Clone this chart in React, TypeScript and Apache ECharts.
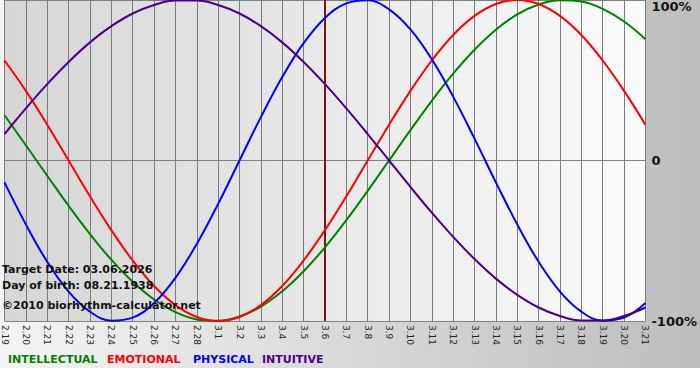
import React, { useEffect, useRef } from "react";
import * as echarts from "echarts";

const days = [
  "2.19", "2.20", "2.21", "2.22", "2.23", "2.24", "2.25", "2.26", "2.27", "2.28",
  "3.1", "3.2", "3.3", "3.4", "3.5", "3.6", "3.7", "3.8", "3.9", "3.10",
  "3.11", "3.12", "3.13", "3.14", "3.15", "3.16", "3.17", "3.18", "3.19", "3.20", "3.21",
];

const intellectual = [
  0.282, 0.095, -0.095, -0.282, -0.458, -0.618, -0.756, -0.866, -0.945, -0.99,
  -0.999, -0.972, -0.91, -0.815, -0.69, -0.541, -0.372, -0.189, 0, 0.189,
  0.372, 0.541, 0.69, 0.815, 0.91, 0.972, 0.999, 0.99, 0.945, 0.866, 0.756,
];

const emotional = [
  0.623, 0.434, 0.223, 0, -0.223, -0.434, -0.623, -0.782, -0.901, -0.975,
  -1.0, -0.975, -0.901, -0.782, -0.623, -0.434, -0.223, 0, 0.223, 0.434,
  0.623, 0.782, 0.901, 0.975, 1.0, 0.975, 0.901, 0.782, 0.623, 0.434, 0.223,
];

const physical = [
  -0.136, -0.398, -0.631, -0.817, -0.942, -0.998, -0.979, -0.888, -0.731, -0.52,
  -0.27, 0, 0.27, 0.52, 0.731, 0.888, 0.979, 0.998, 0.942, 0.817,
  0.631, 0.398, 0.136, -0.136, -0.398, -0.631, -0.817, -0.942, -0.998, -0.979, -0.888,
];

const intuitive = [
  0.165, 0.325, 0.476, 0.614, 0.736, 0.837, 0.916, 0.969, 0.997, 0.997,
  0.969, 0.916, 0.837, 0.736, 0.614, 0.476, 0.325, 0.165, 0, -0.165,
  -0.325, -0.476, -0.614, -0.736, -0.837, -0.916, -0.969, -0.997, -0.997, -0.969, -0.916,
];

const targetDay = "3.6";
const infoLines = [
  "Target Date: 03.06.2026",
  "Day of birth: 08.21.1938",
  "\u00a92010 biorhythm-calculator.net",
];
const legendNames = ["INTELLECTUAL", "EMOTIONAL", "PHYSICAL", "INTUITIVE"];
const colors = ["#008000", "#ff0000", "#0000ff", "#4b0082"];

const FONT = "DejaVu Sans, Verdana, sans-serif";

export default function App() {
  const ref = useRef<HTMLDivElement>(null);
  useEffect(() => {
    document.body.style.margin = "0";
    if (!ref.current) return;
    const chart = echarts.init(ref.current, undefined, { renderer: "svg" });
    const seriesData = [intellectual, emotional, physical, intuitive];
    const legendX = [8, 107, 193, 262];
    const infoY = [271, 287, 307];
    chart.setOption({
      animation: false,
      backgroundColor: "transparent",
      grid: {
        left: 0,
        right: 49,
        top: 0,
        height: 321,
        show: true,
        borderWidth: 0,
        backgroundColor: new echarts.graphic.LinearGradient(0, 0, 1, 0, [
          { offset: 0, color: "#d6d6d6" },
          { offset: 1, color: "#fbfbfb" },
        ]),
      },
      xAxis: {
        type: "category",
        data: days,
        boundaryGap: false,
        axisLine: { show: true, lineStyle: { color: "#808080", width: 1 } },
        axisTick: { show: true, length: 5, interval: 0, lineStyle: { color: "#808080" } },
        axisLabel: {
          interval: 0,
          rotate: -90,
          fontSize: 9,
          fontFamily: FONT,
          color: "#222",
          margin: 4,
        },
        splitLine: { show: true, interval: 0, lineStyle: { color: "#7a7a7a", width: 1 } },
      },
      yAxis: {
        type: "value",
        min: -1,
        max: 1,
        interval: 1,
        position: "right",
        axisLine: { show: false },
        axisTick: { show: false },
        axisLabel: {
          fontSize: 13,
          fontWeight: "bold",
          fontFamily: FONT,
          color: "#111",
          margin: 6,
          verticalAlignMaxLabel: "top",
          formatter: (v: number) => (v === 0 ? "0" : `${Math.round(v * 100)}%`),
        },
        splitLine: { show: true, lineStyle: { color: "#808080", width: 1 } },
      },
      series: seriesData.map((d, i) => ({
        type: "line",
        name: legendNames[i],
        data: d,
        smooth: 0.4,
        symbol: "none",
        lineStyle: { color: colors[i], width: 2 },
        z: 3 + i,
        ...(i === 0
          ? {
              markLine: {
                silent: true,
                symbol: "none",
                label: { show: false },
                lineStyle: { color: "#7a1414", width: 2, type: "solid" },
                data: [{ xAxis: targetDay }],
                z: 2,
              },
            }
          : {}),
      })),
      graphic: [
        ...infoLines.map((t, i) => ({
          type: "text",
          left: 2,
          top: infoY[i] - 7,
          z: 100,
          style: {
            text: t,
            fontSize: 11,
            fontWeight: "bold",
            fontFamily: FONT,
            fill: "#111",
          },
        })),
        ...legendNames.map((t, i) => ({
          type: "text",
          left: legendX[i],
          top: 354,
          z: 100,
          style: {
            text: t,
            fontSize: 11,
            fontWeight: "bold",
            fontFamily: FONT,
            fill: colors[i],
          },
        })),
      ],
    });
    return () => chart.dispose();
  }, []);
  return (
    <div
      ref={ref}
      style={{
        width: 700,
        height: 380,
        backgroundColor: "#ffffff",
        backgroundImage: "linear-gradient(to right, #f4f4f4, #bdbdbd)",
        backgroundSize: "100% 368px",
        backgroundRepeat: "no-repeat",
      }}
    />
  );
}
